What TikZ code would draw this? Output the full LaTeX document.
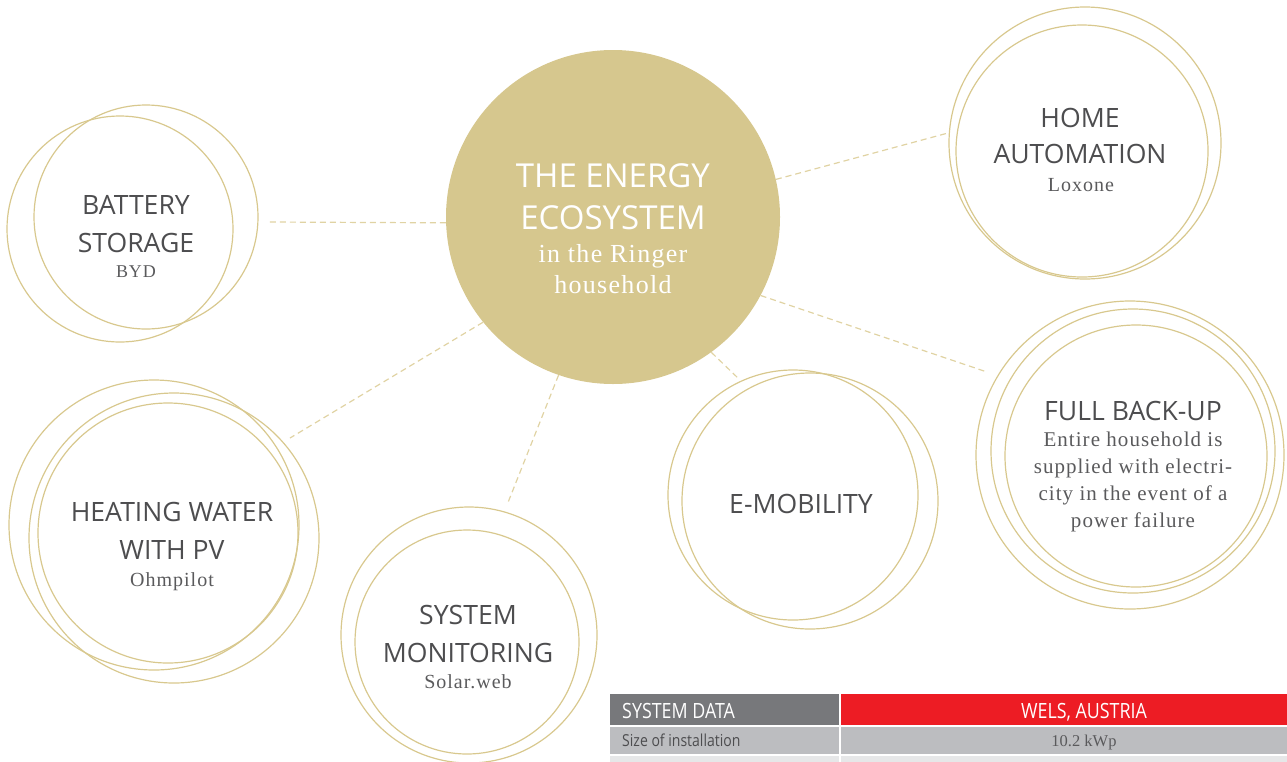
\documentclass[tikz,border=0pt]{standalone}
\usepackage{fontspec}
\setmainfont{Liberation Serif}
\newfontfamily\headfont{Open Sans}
\newfontfamily\serfont[LetterSpace=5]{Liberation Serif}
\newfontfamily\tabfont[FakeStretch=0.85]{Open Sans}
\definecolor{ringgold}{RGB}{216,200,142}
\definecolor{linkgold}{RGB}{224,211,163}
\definecolor{ecogold}{RGB}{214,199,142}
\definecolor{txtgray}{RGB}{77,77,79}
\definecolor{subgray}{RGB}{90,90,92}
\definecolor{tabgray}{RGB}{119,120,123}
\definecolor{tabred}{RGB}{237,28,36}
\definecolor{rowgray}{RGB}{188,189,192}
\definecolor{rowlight}{RGB}{230,231,232}
\begin{document}
\begin{tikzpicture}[x=1pt, y=-1pt, line join=round, line cap=round,
	ring/.style={draw=ringgold, line width=1.2pt},
	ringnode/.style={ring, circle, inner sep=0pt, outer sep=0pt, minimum size=#1},
	link/.style={draw=linkgold, line width=1.2pt, line cap=butt, dash pattern=on 6pt off 4pt},
	title/.style={text=txtgray, font=\headfont\fontsize{26.6}{38}\selectfont, align=center, anchor=base, inner sep=0pt},
	note/.style={text=subgray, font=\serfont\fontsize{20}{27}\selectfont, align=center, anchor=base, inner sep=0pt},
	tabtext/.style={font=\tabfont\fontsize{#1}{#1}\selectfont, anchor=base west, inner sep=0pt}]
	\useasboundingbox (0,0) rectangle (1287,761);
	\path
	(267,222) coordinate (bat-in)
	(290,438) coordinate (heat-in)
	(948,133) coordinate (home-in)
	(987,372) coordinate (full-in)
	(740,380) coordinate (emob-in)
	(507,505) coordinate (mon-in)
	;
	% centre
	\node[circle, fill=ecogold, inner sep=0pt, minimum size=334pt] (eco) at (613,217) {};
	\node[title, text=white, font=\headfont\fontsize{33}{42}\selectfont] (eco-t) at (613,229) {THE ENERGY\\ECOSYSTEM};
	\node[note, text=white, font=\serfont\fontsize{26}{31}\selectfont] (eco-s) at (613,293) {in the Ringer\\household};
	% rings
	\node[ringnode=224pt] (bat) at (146,217) {};
	\node[ringnode=272pt] (home) at (1085,143) {};
	\node[ringnode=290pt] (heat) at (174,538) {};
	\node[ringnode=256pt] (mon) at (469,635) {};
	\node[ringnode=256pt] (emob) at (810,501) {};
	\node[ringnode=308pt] (full) at (1130,455) {};
	\foreach \c/\r in {(120,229)/113, (1082,151)/126, (154,525)/145, (168,533)/130,
		(467,642)/112, (793,495)/125, (1133,451)/142, (1136,456)/131}{
		\draw[ring] \c circle[radius=\r pt];}
	% links
	\foreach \a/\e in {182/bat, 219/heat, 13.5/home, -28/full, -54.7/emob, 251/mon}{
		\draw[link] (eco.\a) -- (\e-in);}
	% labels (base = last line)
	\node[title] (bat-t) at (136,252) {BATTERY\\STORAGE};
	\node[note, font=\serfont\fontsize{18}{20}\selectfont] (bat-s) at (136,277) {BYD};
	\node[title, font=\headfont\fontsize{26.6}{36}\selectfont] (home-t) at (1080,163) {HOME\\AUTOMATION};
	\node[note] (home-s) at (1081,191) {Loxone};
	\node[title] (heat-t) at (172,559) {HEATING WATER\\WITH PV};
	\node[note] (heat-s) at (172,586) {Ohmpilot};
	\node[title] (mon-t) at (468,662) {SYSTEM\\MONITORING};
	\node[note] (mon-s) at (468,688) {Solar.web};
	\node[title] (emob-t) at (801,513) {E-MOBILITY};
	\node[title] (full-t) at (1133,420) {FULL BACK-UP};
	\node[note, font=\serfont\fontsize{21}{26.7}\selectfont] (full-s) at (1133,527)
		{Entire household is\\supplied with electri-\\city in the event of a\\power failure};
	% system data
	\fill[tabgray] (610,694) rectangle (839,725);
	\fill[tabred] (841,694) rectangle (1330,725);
	\fill[rowgray] (610,727) rectangle (839,754);
	\fill[rowgray] (841,727) rectangle (1330,754);
	\fill[rowlight] (610,756) rectangle (839,770);
	\fill[rowlight] (841,756) rectangle (1330,770);
	\node[tabtext=21, text=white] (sd-t) at (622,718) {SYSTEM DATA};
	\node[tabtext=21, text=white, anchor=base] (sd-loc) at (1084,718) {WELS, AUSTRIA};
	\node[tabtext=16.5, text=txtgray] (sd-size) at (622,746) {Size of installation};
	\node[font=\fontsize{16.5}{18}\selectfont, text=subgray, anchor=base, inner sep=0pt] (sd-kwp) at (1084,746) {10.2 kWp};
\end{tikzpicture}
\end{document}
